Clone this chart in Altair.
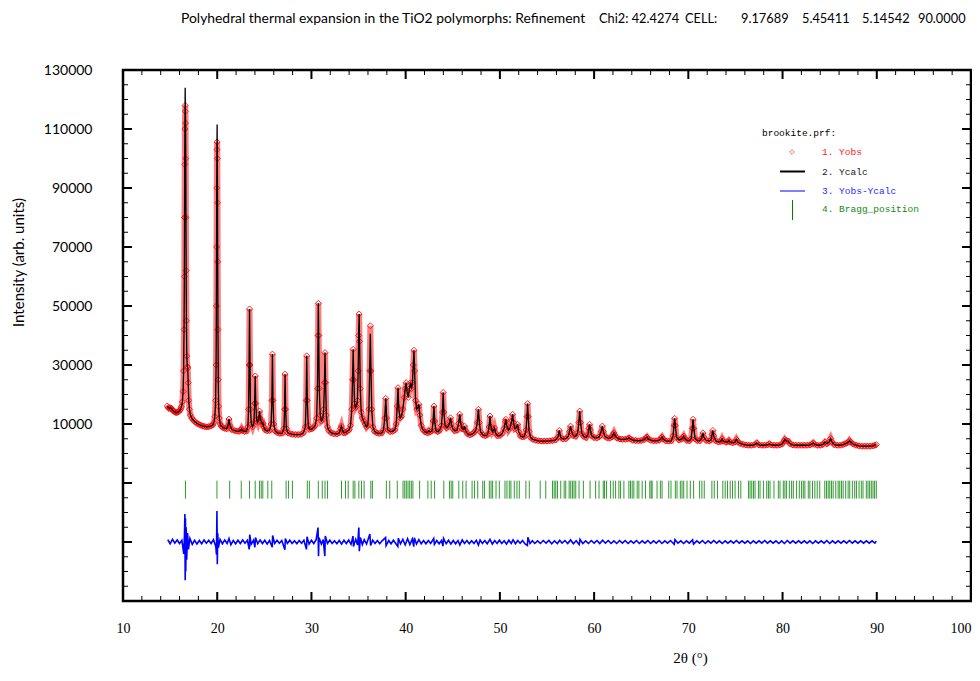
import altair as alt
import pandas as pd

# ---------------- data ----------------
OBS_POINTS = [
    (14.70, 16100), (14.80, 15600), (14.90, 15300), (15.00, 15500), (15.10, 15400), (15.20, 15000),
    (15.30, 14600), (15.40, 14300), (15.50, 14100), (15.60, 13900), (15.70, 13900), (15.80, 14000),
    (15.90, 14200), (16.00, 14500), (16.10, 15000), (16.20, 15800), (16.30, 17500), (16.38, 21000),
    (16.43, 28000), (16.48, 42000), (16.51, 60000), (16.53, 80000), (16.55, 98000), (16.57, 110000),
    (16.60, 118000), (16.62, 116000), (16.64, 112000), (16.66, 100000), (16.68, 80000), (16.70, 62000),
    (16.73, 45000), (16.77, 33000), (16.82, 29500), (16.87, 29000), (16.92, 24000), (16.98, 18000),
    (17.05, 15000), (17.15, 13000), (17.30, 12000), (17.50, 11200), (17.70, 10600), (17.90, 10100),
    (18.10, 9800), (18.30, 9500), (18.50, 9300), (18.70, 9100), (18.90, 9000), (19.10, 9100),
    (19.30, 9300), (19.50, 9600), (19.65, 10500), (19.75, 12500), (19.83, 18000), (19.88, 30000),
    (19.91, 50000), (19.93, 70000), (19.95, 90000), (19.97, 103000), (19.99, 105600), (20.01, 100000),
    (20.03, 85000), (20.05, 65000), (20.08, 42000), (20.11, 25000), (20.15, 16000), (20.22, 12000),
    (20.32, 10000), (20.45, 9200), (20.60, 8800), (20.80, 8500), (21.00, 8400), (21.15, 9500),
    (21.25, 11700), (21.35, 9500), (21.55, 8100), (21.80, 7800), (22.05, 7600), (22.30, 7500),
    (22.50, 7900), (22.58, 8400), (22.68, 7800), (22.90, 7500), (23.10, 7600), (23.25, 9000),
    (23.33, 15000), (23.38, 30000), (23.43, 49000), (23.48, 30000), (23.53, 15000), (23.62, 10000),
    (23.75, 9000), (23.90, 10500), (23.97, 17000), (24.03, 26300), (24.09, 17000), (24.18, 11500),
    (24.30, 10500), (24.42, 12000), (24.49, 14400), (24.56, 12000), (24.67, 11000), (24.78, 10000),
    (24.86, 10200), (24.95, 9000), (25.10, 8000), (25.30, 7700), (25.55, 7800), (25.72, 10000),
    (25.80, 18000), (25.86, 33700), (25.92, 18000), (26.00, 10000), (26.15, 7600), (26.40, 7000),
    (26.65, 6800), (26.90, 6900), (27.08, 8500), (27.15, 15000), (27.20, 26900), (27.26, 15000),
    (27.34, 8500), (27.50, 7000), (27.75, 6700), (28.00, 6500), (28.30, 6400), (28.60, 6400),
    (28.90, 6500), (29.15, 7000), (29.35, 9000), (29.44, 18000), (29.50, 33100), (29.56, 18000),
    (29.66, 9500), (29.80, 8200), (30.00, 8300), (30.20, 8700), (30.40, 9500), (30.55, 12000),
    (30.64, 22000), (30.70, 40000), (30.73, 50900), (30.77, 40000), (30.83, 22000), (30.93, 13000),
    (31.05, 11000), (31.20, 11500), (31.30, 15000), (31.38, 24000), (31.44, 34200), (31.50, 24000),
    (31.58, 13000), (31.70, 9000), (31.85, 7800), (32.10, 7000), (32.40, 6700), (32.70, 6600),
    (32.95, 7000), (33.10, 8500), (33.18, 9300), (33.28, 8000), (33.45, 7000), (33.60, 7100),
    (33.80, 7500), (34.00, 8000), (34.15, 9500), (34.28, 15000), (34.36, 25000), (34.43, 35300),
    (34.50, 25000), (34.58, 17000), (34.68, 15500), (34.78, 16000), (34.88, 18000), (34.96, 28000),
    (35.01, 40000), (35.06, 47300), (35.11, 38000), (35.18, 22000), (35.28, 14000), (35.40, 12000),
    (35.55, 11000), (35.70, 10000), (35.85, 9000), (35.98, 9500), (36.10, 15000), (36.18, 28000),
    (36.25, 43300), (36.32, 28000), (36.40, 15000), (36.52, 9000), (36.70, 7500), (36.95, 7000),
    (37.20, 6800), (37.45, 6900), (37.65, 8000), (37.78, 12000), (37.89, 18700), (37.98, 12000),
    (38.10, 8000), (38.35, 7400), (38.60, 7500), (38.85, 8000), (39.00, 10000), (39.10, 16000),
    (39.19, 22300), (39.28, 15000), (39.40, 12000), (39.55, 12500), (39.70, 15000), (39.85, 19000),
    (39.95, 22000), (40.05, 24000), (40.15, 21000), (40.28, 19000), (40.40, 22000), (40.52, 24000),
    (40.62, 22000), (40.72, 24000), (40.81, 30000), (40.88, 35000), (40.95, 28000), (41.05, 18000),
    (41.18, 15000), (41.30, 15500), (41.40, 16700), (41.50, 13000), (41.65, 9500), (41.85, 8000),
    (42.05, 7300), (42.30, 7000), (42.45, 7700), (42.60, 7300), (42.80, 7700), (42.92, 11000),
    (43.00, 16100), (43.08, 11000), (43.20, 7800), (43.40, 7400), (43.60, 7800), (43.80, 9500),
    (43.90, 14000), (43.98, 20700), (44.06, 14000), (44.18, 9500), (44.35, 8700), (44.55, 9200),
    (44.68, 10800), (44.76, 12100), (44.85, 10000), (45.00, 8400), (45.20, 7700), (45.45, 7900),
    (45.62, 10200), (45.74, 13300), (45.85, 10000), (46.00, 8300), (46.15, 8200), (46.24, 9300),
    (46.35, 7900), (46.55, 6700), (46.80, 6300), (47.05, 6600), (47.25, 7100), (47.45, 7900),
    (47.60, 10500), (47.72, 15000), (47.82, 10500), (47.95, 7300), (48.20, 6300), (48.45, 6000),
    (48.70, 6400), (48.85, 9000), (48.95, 12700), (49.05, 9000), (49.20, 7300), (49.35, 8000),
    (49.42, 8700), (49.55, 6900), (49.75, 6000), (50.00, 6100), (50.25, 6800), (50.45, 8500),
    (50.58, 10800), (50.64, 11600), (50.72, 9500), (50.90, 7900), (51.10, 8900), (51.25, 11000),
    (51.35, 13300), (51.45, 10500), (51.60, 8400), (51.75, 8700), (51.88, 9900), (52.00, 7400),
    (52.20, 5900), (52.40, 5600), (52.60, 5800), (52.78, 8000), (52.87, 12500), (52.94, 16900),
    (53.01, 12500), (53.10, 7500), (53.25, 5500), (53.50, 4800), (53.80, 4500), (54.10, 4300),
    (54.40, 4200), (54.70, 4200), (55.00, 4200), (55.30, 4300), (55.60, 4400), (55.90, 4600),
    (56.15, 5500), (56.30, 7800), (56.45, 5500), (56.70, 4900), (57.00, 5000), (57.25, 5800),
    (57.40, 7500), (57.50, 9300), (57.60, 7500), (57.80, 6000), (58.05, 5800), (58.25, 7000),
    (58.38, 10500), (58.47, 14400), (58.56, 10500), (58.70, 6800), (58.90, 5800), (59.15, 5400),
    (59.35, 6500), (59.45, 8500), (59.52, 9900), (59.60, 8000), (59.75, 6000), (60.00, 5400),
    (60.30, 5300), (60.55, 5700), (60.75, 7500), (60.87, 9300), (60.97, 7500), (61.15, 5800),
    (61.40, 5300), (61.65, 5200), (61.90, 5600), (62.02, 6500), (62.10, 7000), (62.20, 6200),
    (62.45, 5200), (62.75, 4900), (63.00, 4800), (63.30, 4800), (63.55, 5000), (63.70, 5300),
    (63.85, 4900), (64.10, 4500), (64.40, 4400), (64.70, 4300), (65.00, 4400), (65.30, 4700),
    (65.50, 5300), (65.60, 5600), (65.72, 5000), (66.00, 4500), (66.30, 4300), (66.60, 4300),
    (66.90, 4500), (67.10, 5200), (67.20, 5600), (67.32, 4900), (67.60, 4300), (67.90, 4200),
    (68.20, 4300), (68.38, 6000), (68.48, 9500), (68.55, 11900), (68.62, 9500), (68.75, 5500),
    (69.00, 4600), (69.25, 4800), (69.42, 5500), (69.50, 5900), (69.60, 5200), (69.85, 4400),
    (70.10, 4300), (70.30, 5000), (70.42, 8500), (70.50, 11600), (70.58, 8500), (70.72, 5000),
    (70.95, 4400), (71.20, 4300), (71.42, 5200), (71.55, 7000), (71.65, 5500), (71.90, 4400),
    (72.20, 4200), (72.40, 4600), (72.52, 6500), (72.60, 7800), (72.68, 6000), (72.90, 4300),
    (73.20, 3900), (73.45, 4100), (73.58, 5000), (73.70, 4200), (74.00, 3800), (74.20, 4000),
    (74.30, 4400), (74.42, 3900), (74.70, 3600), (74.95, 3900), (75.10, 4800), (75.25, 3900),
    (75.50, 3400), (75.80, 3100), (76.10, 2900), (76.40, 2800), (76.70, 2800), (77.00, 2900),
    (77.26, 3600), (77.50, 2900), (77.80, 2800), (78.10, 2800), (78.40, 2900), (78.60, 3300),
    (78.80, 2900), (79.10, 2800), (79.40, 2800), (79.70, 2900), (79.95, 3200), (80.15, 4200),
    (80.25, 4800), (80.40, 4300), (80.60, 4200), (80.80, 3300), (81.10, 2900), (81.40, 2800),
    (81.70, 2800), (82.00, 2800), (82.30, 2800), (82.60, 2800), (82.90, 2900), (83.10, 3200),
    (83.25, 3600), (83.40, 3100), (83.70, 2800), (84.00, 2800), (84.25, 3000), (84.50, 3900),
    (84.70, 3300), (84.90, 3700), (85.10, 5100), (85.25, 3900), (85.50, 3000), (85.80, 2800),
    (86.10, 2800), (86.40, 3000), (86.60, 3300), (86.80, 3500), (87.00, 3900), (87.10, 4400),
    (87.25, 3800), (87.50, 3200), (87.80, 2800), (88.10, 2600), (88.40, 2500), (88.70, 2500),
    (89.00, 2500), (89.30, 2500), (89.60, 2600), (89.80, 2800), (89.95, 3000),
]

# calculated profile differs from the observed one at these apexes
CALC_PEAK_TTH = [16.60, 19.99, 36.25]
CALC_PEAK_I = [124000, 111500, 40600]

DIFF_OFFSET = -30000
DIFF_POINTS = [
    (14.75, 800), (15.0, -600), (15.25, 900), (15.5, -400), (15.75, 700), (16.0, -500), (16.25, 600),
    (16.45, -4000), (16.52, 2000), (16.57, 9500), (16.60, -13000), (16.63, 8000), (16.66, -10000),
    (16.70, 5000), (16.76, -6000), (16.85, 3000), (16.95, -2500), (17.1, 1200), (17.35, -800),
    (17.6, 600), (17.85, -700), (18.1, 500), (18.35, -600), (18.6, 700), (18.85, -400), (19.1, 600),
    (19.35, -500), (19.6, 800), (19.85, -1500), (19.92, -4300), (19.97, 10500), (20.01, -7500),
    (20.05, 3000), (20.12, -2000), (20.3, 900), (20.55, -600), (20.8, 700), (21.05, -500),
    (21.25, 1200), (21.45, -900), (21.7, 500), (21.95, -600), (22.2, 600), (22.45, -500), (22.7, 700),
    (22.95, -400), (23.2, 600), (23.4, -2500), (23.45, 2500), (23.6, -800), (23.85, 600),
    (24.0, -1800), (24.06, 1500), (24.3, -600), (24.55, 700), (24.8, -500), (25.05, 600),
    (25.3, -700), (25.55, 500), (25.84, -1800), (25.88, 2200), (26.1, -500), (26.35, 600),
    (26.6, -400), (26.85, 500), (27.18, -2600), (27.23, 1200), (27.45, -500), (27.7, 600),
    (27.95, -500), (28.2, 400), (28.45, -600), (28.7, 500), (28.95, -400), (29.2, 600),
    (29.47, -2500), (29.53, 1800), (29.75, -700), (30.0, 600), (30.25, -500), (30.5, 800),
    (30.7, 4900), (30.75, -4800), (30.8, 1500), (31.05, -700), (31.25, 800), (31.42, -4800),
    (31.47, 2000), (31.7, -500), (31.95, 600), (32.2, -500), (32.45, 400), (32.7, -600),
    (32.95, 500), (33.2, -700), (33.45, 600), (33.7, -500), (33.95, 700), (34.2, -800),
    (34.41, 2000), (34.46, -1500), (34.7, 900), (34.9, -1000), (35.03, 4900), (35.08, -3100),
    (35.2, 1500), (35.4, -900), (35.6, 800), (35.85, -700), (36.2, 2700), (36.28, -1200),
    (36.5, 600), (36.75, -500), (37.0, 500), (37.25, -600), (37.5, 400), (37.87, 1500),
    (37.92, -1200), (38.2, 500), (38.45, -600), (38.7, 600), (38.95, -500), (39.17, -1500),
    (39.22, 1300), (39.45, -600), (39.7, 900), (39.95, -1000), (40.2, 1100), (40.45, -900),
    (40.7, 1000), (40.86, -1600), (40.92, 1400), (41.15, -700), (41.4, 800), (41.65, -600),
    (41.9, 500), (42.15, -600), (42.4, 500), (42.65, -500), (42.98, 1200), (43.05, -800),
    (43.3, 500), (43.55, -600), (43.8, 500), (43.96, -1400), (44.02, 1200), (44.3, -600),
    (44.55, 600), (44.8, -700), (45.05, 500), (45.3, -600), (45.55, 500), (45.75, -1000),
    (46.0, 700), (46.25, -500), (46.5, 500), (46.75, -600), (47.0, 400), (47.25, -500),
    (47.5, 600), (47.72, -1000), (47.9, 700), (48.15, -500), (48.4, 500), (48.65, -600),
    (48.95, 900), (49.2, -700), (49.45, 500), (49.7, -500), (49.95, 600), (50.2, -500),
    (50.45, 400), (50.7, -700), (50.95, 600), (51.2, -500), (51.4, 700), (51.65, -600),
    (51.9, 500), (52.15, -400), (52.4, 500), (52.65, -600), (52.92, -1200), (52.97, 1600),
    (53.2, -500), (53.45, 400), (53.7, -500), (54.0, 400), (54.3, -500), (54.6, 500), (54.9, -400),
    (55.2, 500), (55.5, -600), (55.8, 400), (56.1, -500), (56.35, 600), (56.6, -400), (56.9, 500),
    (57.2, -500), (57.5, 700), (57.8, -600), (58.1, 400), (58.42, -900), (58.5, 900), (58.8, -500),
    (59.1, 400), (59.4, -500), (59.7, 500), (60.0, -400), (60.3, 500), (60.6, -500), (60.9, 600),
    (61.2, -400), (61.5, 500), (61.8, -500), (62.1, 400), (62.4, -500), (62.7, 500), (63.0, -400),
    (63.3, 500), (63.6, -500), (63.9, 400), (64.2, -400), (64.5, 500), (64.8, -500), (65.1, 400),
    (65.4, -400), (65.7, 500), (66.0, -500), (66.3, 400), (66.6, -400), (66.9, 500), (67.2, -500),
    (67.5, 400), (67.8, -400), (68.1, 500), (68.5, -800), (68.58, 800), (68.9, -400), (69.2, 400),
    (69.5, -500), (69.8, 400), (70.1, -400), (70.45, 700), (70.55, -700), (70.9, 400), (71.2, -400),
    (71.5, 500), (71.8, -500), (72.1, 400), (72.4, -400), (72.7, 500), (73.0, -400), (73.3, 400),
    (73.6, -500), (73.9, 400), (74.2, -400), (74.5, 400), (74.8, -400), (75.1, 500), (75.4, -400),
    (75.7, 400), (76.0, -400), (76.3, 400), (76.6, -500), (76.9, 400), (77.2, -400), (77.5, 400),
    (77.8, -400), (78.1, 500), (78.4, -400), (78.7, 400), (79.0, -400), (79.3, 400), (79.6, -500),
    (79.9, 400), (80.2, -500), (80.5, 500), (80.8, -400), (81.1, 400), (81.4, -400), (81.7, 400),
    (82.0, -400), (82.3, 400), (82.6, -400), (82.9, 400), (83.2, -500), (83.5, 400), (83.8, -400),
    (84.1, 400), (84.4, -400), (84.7, 500), (85.0, -500), (85.3, 400), (85.6, -400), (85.9, 400),
    (86.2, -400), (86.5, 400), (86.8, -400), (87.1, 500), (87.4, -400), (87.7, 400), (88.0, -400),
    (88.3, 400), (88.6, -400), (88.9, 400), (89.2, -400), (89.5, 400), (89.8, -400), (89.95, 300),
]

BRAGG_TTH = [
    16.63, 19.97, 21.32, 22.55, 23.43, 24.03, 24.49, 24.67, 24.84, 25.37, 25.79, 27.31, 27.56, 27.98,
    29.56, 29.78, 30.73, 31.15, 31.44, 31.71, 33.19, 33.61, 33.90, 34.43, 34.61, 35.03, 35.31, 35.59,
    36.30, 36.47, 37.95, 38.31, 39.11, 39.72, 39.90, 40.07, 40.25, 40.43, 40.60, 40.77, 41.48, 42.36,
    42.71, 43.07, 44.05, 44.65, 44.83, 45.00, 45.64, 46.06, 46.41, 47.05, 47.30, 47.65, 48.18, 48.36,
    48.88, 49.06, 49.23, 49.59, 49.94, 50.54, 50.75, 51.00, 51.17, 51.53, 51.81, 52.06, 52.76, 53.12,
    54.28, 54.87, 55.58, 55.76, 55.93, 56.11, 56.46, 56.82, 56.99, 57.35, 57.52, 57.70, 57.87, 58.05,
    58.40, 58.86, 59.57, 60.16, 60.52, 60.97, 61.11, 61.32, 61.75, 62.03, 62.28, 62.63, 62.81, 63.16,
    63.69, 63.86, 64.04, 64.22, 64.57, 64.75, 65.10, 65.45, 65.91, 66.05, 66.16, 66.68, 67.03, 67.21,
    67.92, 68.16, 68.62, 68.80, 69.15, 69.33, 69.51, 69.86, 70.21, 70.56, 71.20, 71.44, 71.69, 72.50,
    72.75, 73.10, 73.66, 73.91, 74.16, 74.44, 74.69, 74.96, 75.32, 75.57, 76.38, 76.55, 76.73, 76.91,
    77.08, 77.44, 77.61, 77.97, 78.32, 78.50, 78.67, 79.09, 79.55, 79.73, 80.08, 80.25, 80.43, 80.72,
    80.96, 81.14, 81.49, 81.78, 82.02, 82.20, 82.37, 82.73, 82.90, 83.18, 83.43, 83.68, 83.95, 84.48,
    84.66, 84.84, 85.01, 85.19, 85.37, 85.65, 85.90, 86.07, 86.25, 86.43, 86.70, 86.96, 87.13, 87.41,
    87.66, 87.84, 88.12, 88.36, 88.54, 88.89, 89.07, 89.24, 89.42, 89.60, 89.77, 89.95,
]
BRAGG_TOP, BRAGG_BOTTOM = -9200, -15300

X_DOMAIN = [10, 100]
Y_DOMAIN = [-50000, 130000]
X_MAJOR = list(range(10, 101, 10))
X_MINOR = [v for v in range(12, 100, 2) if v % 10 != 0]
Y_LABELED = list(range(10000, 130001, 20000))
Y_MAJOR = list(range(-30000, 130001, 20000))
Y_MINOR = [v for v in range(-45000, 130000, 5000) if (v - 10000) % 20000 != 0]

TITLE_MAIN = "Polyhedral thermal expansion in the TiO2 polymorphs: Refinement"
TITLE_PARTS = ["Chi2: 42.4274", "CELL:", "9.17689", "5.45411", "5.14542", "90.0000"]
TITLE_X = [476, 562, 618, 679, 739, 795]

LEGEND_HEADER = "brookite.prf:"
LEGEND_LABELS = ["1. Yobs", "2. Ycalc", "3. Yobs-Ycalc", "4. Bragg_position"]
LEGEND_COLORS = ["#ff2020", "#202020", "#2a2aff", "#118811"]

# ---------------- build ----------------
W, H = 848, 531
xs = alt.Scale(domain=X_DOMAIN, nice=False, zero=False)
ys = alt.Scale(domain=Y_DOMAIN, nice=False, zero=False)

obs = pd.DataFrame(OBS_POINTS, columns=["tth", "yobs"])
obs["ycalc"] = obs["yobs"]
for t, v in zip(CALC_PEAK_TTH, CALC_PEAK_I):
    obs.loc[(obs["tth"] - t).abs() < 1e-9, "ycalc"] = v

diff = pd.DataFrame(DIFF_POINTS, columns=["tth", "d"])
diff["y"] = diff["d"] + DIFF_OFFSET
bragg = pd.DataFrame({"tth": BRAGG_TTH})

x_axis = alt.Axis(values=X_MAJOR, ticks=False, domain=False, grid=False, format="d",
                  labelFont="Liberation Serif", labelFontSize=14, labelColor="black",
                  labelPadding=20, labelFlush=False, labelOverlap=False,
                  labelAlign={"condition": {"test": "datum.value >= 100", "value": "right"},
                              "value": "center"},
                  title="2θ (°)", titleFont="Liberation Serif", titleFontSize=15,
                  titleFontWeight="normal", titleColor="black", titleX=567, titleY=56,
                  titleBaseline="middle", titleAlign="center")
y_axis = alt.Axis(values=Y_LABELED, ticks=False, domain=False, grid=False, format="d",
                  labelFont="Lato", labelFontSize=14, labelColor="black", labelPadding=31,
                  labelFlush=False, labelOverlap=False,
                  title="Intensity (arb. units)", titleFont="Lato", titleFontSize=15,
                  titleFontWeight="normal", titleColor="black", titleX=-105, titleY=192,
                  titleAngle=270, titleAlign="center", titleBaseline="middle")


def X(field):
    return alt.X(field, scale=xs, axis=x_axis)


def Y(field):
    return alt.Y(field, scale=ys, axis=y_axis)


band = alt.Chart(obs).mark_line(color="#ff0000", strokeWidth=6, opacity=0.5).encode(
    x=X("tth:Q"), y=Y("yobs:Q"))
pts = alt.Chart(obs).mark_point(shape="diamond", filled=False, color="#ff0000",
                                size=36, strokeWidth=0.9, opacity=0.95).encode(
    x=X("tth:Q"), y=Y("yobs:Q"))
calc = alt.Chart(obs).mark_line(color="black", strokeWidth=1.3).encode(
    x=X("tth:Q"), y=Y("ycalc:Q"))
diff_line = alt.Chart(diff).mark_line(color="#0000ff", strokeWidth=1.6).encode(
    x=X("tth:Q"), y=Y("y:Q"))
bragg_rules = alt.Chart(bragg).transform_calculate(
    top=str(BRAGG_TOP), bot=str(BRAGG_BOTTOM)
).mark_rule(color="#008000", strokeWidth=1, opacity=0.8).encode(
    x=X("tth:Q"), y=Y("top:Q"), y2="bot:Q")


def yticks(vals, length, sw):
    df = pd.DataFrame({"v": vals})
    base = alt.Chart(df).mark_rule(color="black", strokeWidth=sw)
    left = base.encode(y=Y("v:Q"), x=alt.value(0), x2=alt.value(length))
    right = base.encode(y=Y("v:Q"), x=alt.value(W), x2=alt.value(W - length))
    return [left, right]


def xticks(vals, length, sw):
    df = pd.DataFrame({"v": vals})
    base = alt.Chart(df).mark_rule(color="black", strokeWidth=sw)
    bottom = base.encode(x=X("v:Q"), y=alt.value(H), y2=alt.value(H - length))
    top = base.encode(x=X("v:Q"), y=alt.value(0), y2=alt.value(length))
    return [bottom, top]


tick_layers = yticks(Y_MAJOR, 9, 2) + yticks(Y_MINOR, 5, 1) + xticks(X_MAJOR, 9, 2) + xticks(X_MINOR, 5, 1)

one = pd.DataFrame({"a": [0]})
title_main = alt.Chart(one).mark_text(align="left", baseline="middle", font="Lato",
                                      fontSize=13.9, color="black").encode(
    x=alt.value(58), y=alt.value(-51), text=alt.value(TITLE_MAIN))
title_df = pd.DataFrame({"t": TITLE_PARTS, "px": TITLE_X})
title_layer = alt.Chart(title_df).mark_text(align="left", baseline="middle", font="Lato",
                                            fontSize=12.8, color="black").encode(
    x=alt.X("px:Q", scale=None, axis=None), y=alt.value(-51), text="t:N")

mono = "Liberation Mono"
legend_layers = [
    alt.Chart(one).mark_text(align="left", baseline="middle", font=mono, fontSize=9.5,
                             color="black").encode(x=alt.value(639), y=alt.value(63), text=alt.value(LEGEND_HEADER)),
    alt.Chart(one).mark_point(shape="diamond", filled=False, color="#ff0000", size=22,
                              strokeWidth=0.8).encode(x=alt.value(669), y=alt.value(82)),
    alt.Chart(one).mark_rule(color="black", strokeWidth=2).encode(
        x=alt.value(657), x2=alt.value(682), y=alt.value(101.5)),
    alt.Chart(one).mark_rule(color="#0000ff", strokeWidth=1).encode(
        x=alt.value(657), x2=alt.value(682), y=alt.value(121)),
    alt.Chart(one).mark_rule(color="#008000", strokeWidth=1).encode(
        x=alt.value(669.5), y=alt.value(130), y2=alt.value(150)),
]
for lab, col, yy in zip(LEGEND_LABELS, LEGEND_COLORS, [82, 101.5, 121, 138.5]):
    legend_layers.append(
        alt.Chart(one).mark_text(align="left", baseline="middle", font=mono, fontSize=9.5,
                                 color=col).encode(x=alt.value(699), y=alt.value(yy), text=alt.value(lab)))

chart = alt.layer(band, pts, calc, diff_line, bragg_rules, *tick_layers, title_main, title_layer,
                  *legend_layers).properties(
    width=W, height=H,
    autosize=alt.AutoSizeParams(type="none"),
    padding={"left": 115, "top": 62, "right": 1, "bottom": 68},
    background="white",
).configure_view(stroke="black", strokeWidth=2.5)

chart.save("out.html", embed_options={"renderer": "svg", "actions": False})
